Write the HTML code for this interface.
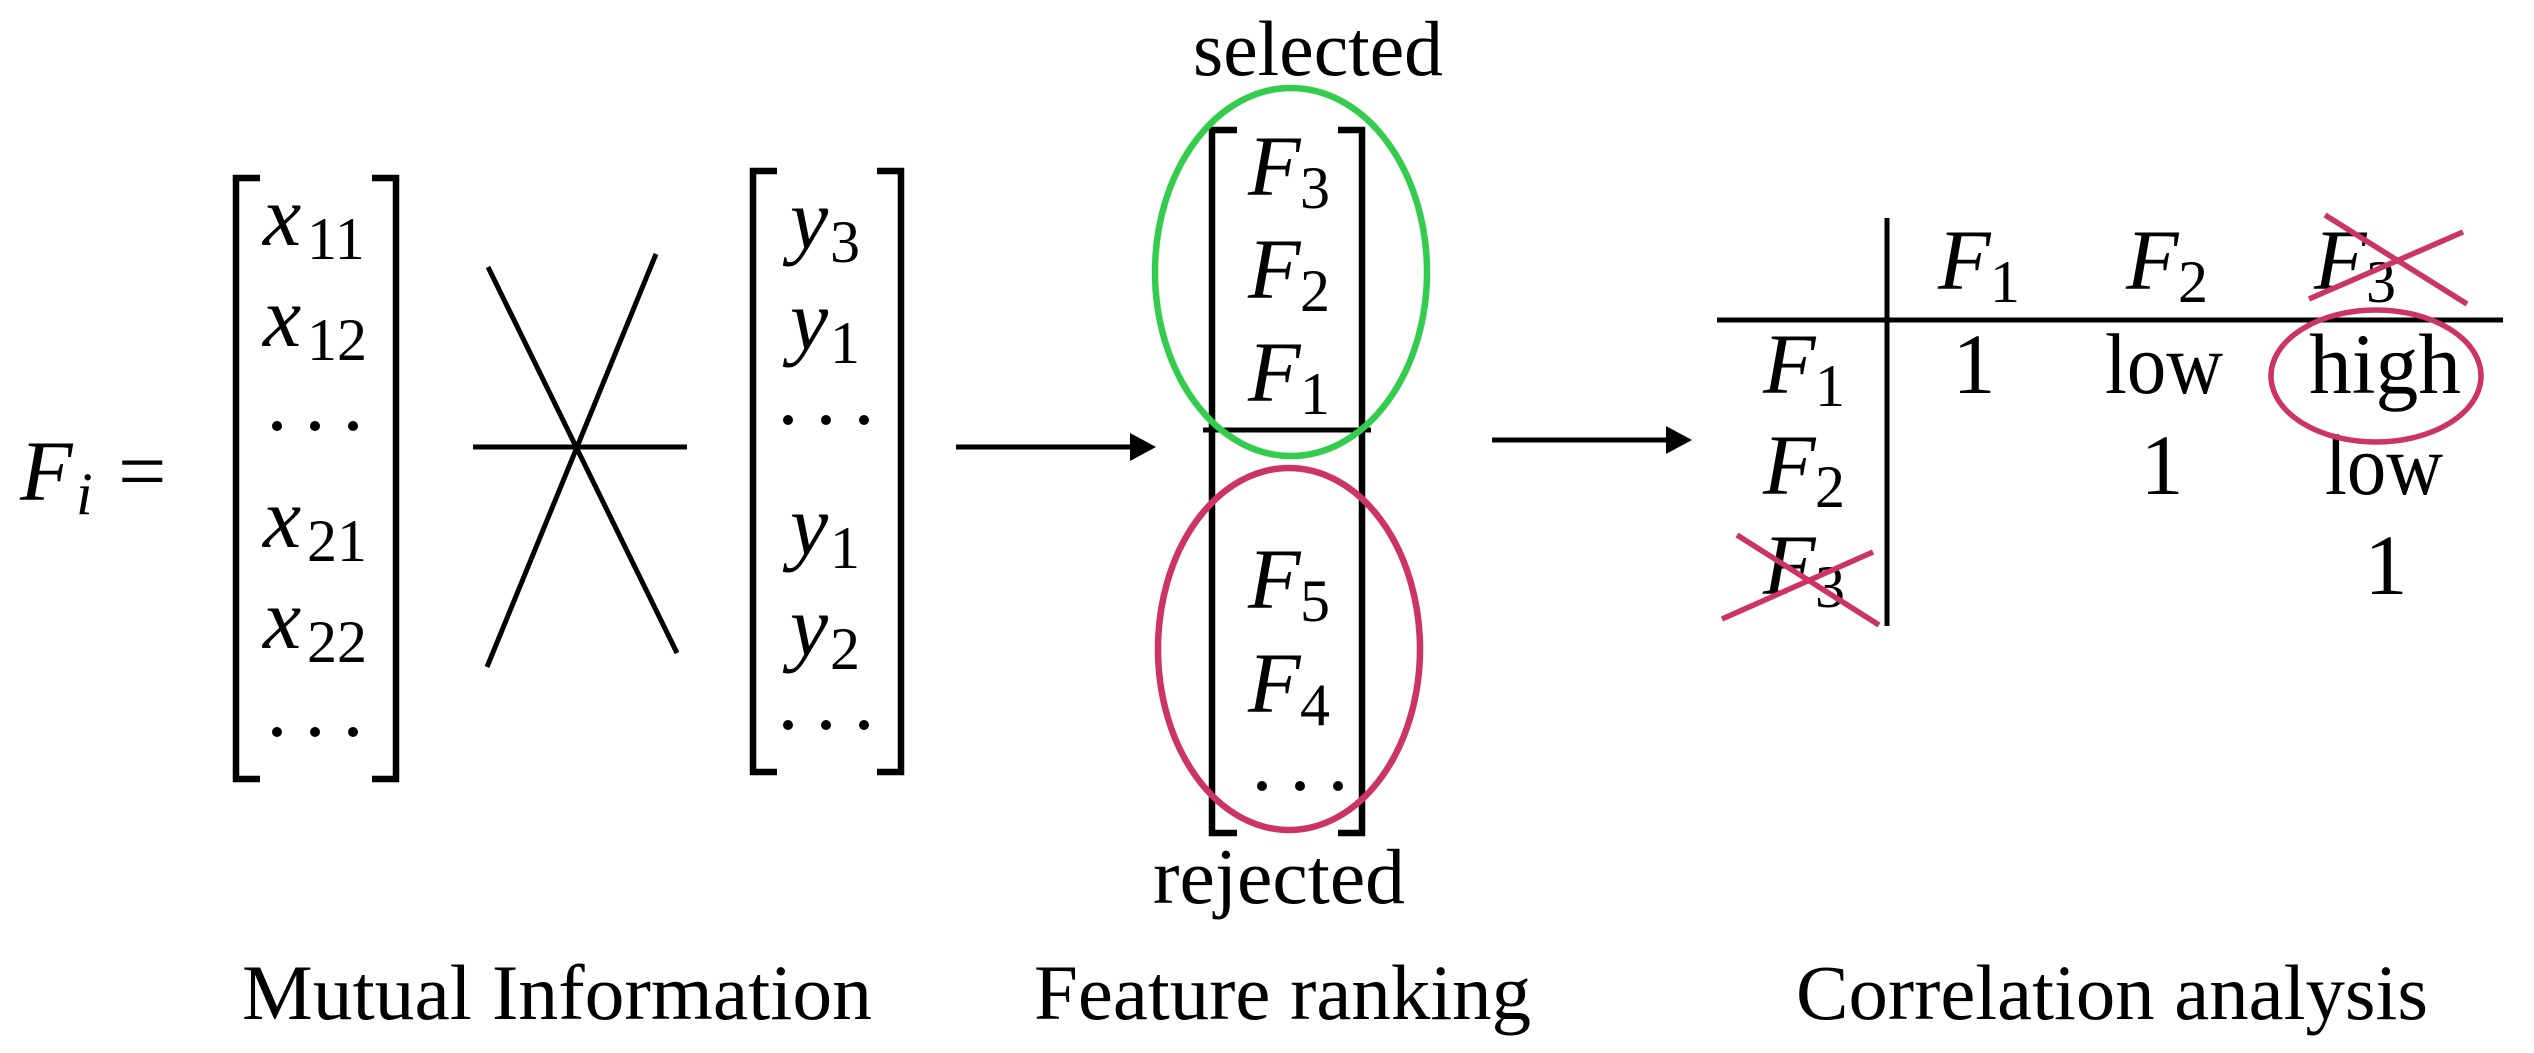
<!DOCTYPE html>
<html><head><meta charset="utf-8"><style>
html,body{margin:0;padding:0;background:#fff;}
svg{display:block;}
text{font-family:"Liberation Serif",serif;fill:#000;}
.m{font-style:italic;font-size:86px;}
.s{font-size:60px;font-style:normal;}
.n{font-size:86px;}
.l{font-size:78px;}
</style></head><body>
<svg width="2534" height="1053" viewBox="0 0 2534 1053" xmlns="http://www.w3.org/2000/svg">
<text class="m" x="20" y="500">F</text>
<text class="s" x="76" y="514" style="font-style:italic">i</text>
<text class="n" x="118" y="500">=</text>

<g fill="none" stroke="#000" stroke-width="6.5">
<path d="M260,178 H236 V779 H260"/>
<path d="M372,178 H396 V779 H372"/>
<path d="M777,171 H753 V772 H777"/>
<path d="M877,171 H901 V772 H877"/>
<path d="M1237,130 H1212 V833 H1237"/>
<path d="M1338,130 H1362 V833 H1338"/>
</g>
<text class="m" x="263" y="245">x</text><text class="s" x="307" y="259">11</text>
<text class="m" x="263" y="346">x</text><text class="s" x="307" y="360">12</text>
<text class="m" x="263" y="547">x</text><text class="s" x="307" y="561">21</text>
<text class="m" x="263" y="648">x</text><text class="s" x="307" y="662">22</text>
<text class="m" x="790" y="248">y</text><text class="s" x="830" y="262">3</text>
<text class="m" x="790" y="349">y</text><text class="s" x="830" y="363">1</text>
<text class="m" x="790" y="554">y</text><text class="s" x="830" y="568">1</text>
<text class="m" x="790" y="655">y</text><text class="s" x="830" y="669">2</text>
<g fill="#000">
<circle cx="277" cy="426" r="5"/><circle cx="315" cy="426" r="5"/><circle cx="353" cy="426" r="5"/>
<circle cx="277" cy="732" r="5"/><circle cx="315" cy="732" r="5"/><circle cx="353" cy="732" r="5"/>
<circle cx="788" cy="420" r="5"/><circle cx="826" cy="420" r="5"/><circle cx="864" cy="420" r="5"/>
<circle cx="788" cy="725" r="5"/><circle cx="826" cy="725" r="5"/><circle cx="864" cy="725" r="5"/>
<circle cx="1262" cy="786" r="5"/><circle cx="1300" cy="786" r="5"/><circle cx="1338" cy="786" r="5"/>
</g>
<g stroke="#000" stroke-width="5">
<line x1="488" y1="267" x2="677" y2="653"/>
<line x1="656" y1="254" x2="487" y2="667"/>
<line x1="473" y1="447" x2="687" y2="447"/>
<line x1="956" y1="447" x2="1135" y2="447"/>
<line x1="1203" y1="430" x2="1371" y2="430"/>
<line x1="1492" y1="440" x2="1672" y2="440"/>
<line x1="1887" y1="218" x2="1887" y2="626"/>
<line x1="1717" y1="320" x2="2503" y2="320"/>
</g>
<polygon points="1156,447 1130,433 1130,461" fill="#000"/>
<polygon points="1692,440 1666,426 1666,454" fill="#000"/>

<text class="m" x="1248" y="195">F</text><text class="s" x="1300" y="208">3</text>
<text class="m" x="1248" y="298">F</text><text class="s" x="1300" y="311">2</text>
<text class="m" x="1248" y="401">F</text><text class="s" x="1300" y="414">1</text>
<text class="m" x="1248" y="608">F</text><text class="s" x="1300" y="621">5</text>
<text class="m" x="1248" y="712">F</text><text class="s" x="1300" y="725">4</text>
<ellipse cx="1291" cy="272" rx="136" ry="184" fill="none" stroke="#33cc4d" stroke-width="6.5"/>
<ellipse cx="1289" cy="649" rx="131" ry="181" fill="none" stroke="#cc3366" stroke-width="6.5"/>
<text class="l" x="1193" y="75" textLength="250" lengthAdjust="spacingAndGlyphs">selected</text>
<text class="l" x="1153" y="903" textLength="252" lengthAdjust="spacingAndGlyphs">rejected</text>

<text class="m" x="1938" y="289">F</text><text class="s" x="1990" y="302">1</text>
<text class="m" x="2126" y="289">F</text><text class="s" x="2178" y="302">2</text>
<text class="m" x="2314" y="289">F</text><text class="s" x="2366" y="302">3</text>
<text class="m" x="1763" y="393">F</text><text class="s" x="1815" y="406">1</text>
<text class="m" x="1763" y="494">F</text><text class="s" x="1815" y="507">2</text>
<text class="m" x="1763" y="594">F</text><text class="s" x="1815" y="607">3</text>
<text class="n" x="1974" y="393" text-anchor="middle">1</text>
<text class="n" x="2105" y="393" textLength="118" lengthAdjust="spacingAndGlyphs">low</text>
<text class="n" x="2309" y="393" textLength="152" lengthAdjust="spacingAndGlyphs">high</text>
<text class="n" x="2162" y="494" text-anchor="middle">1</text>
<text class="n" x="2325" y="494" textLength="118" lengthAdjust="spacingAndGlyphs">low</text>
<text class="n" x="2386" y="594" text-anchor="middle">1</text>
<ellipse cx="2376" cy="376" rx="105" ry="66" fill="none" stroke="#cc3366" stroke-width="5.5"/>
<g stroke="#cc3366" stroke-width="5.5">
<line x1="2309" y1="299" x2="2463" y2="232"/>
<line x1="2325" y1="215" x2="2467" y2="304"/>
<line x1="1722" y1="619" x2="1873" y2="552"/>
<line x1="1737" y1="535" x2="1879" y2="625"/>
</g>

<text class="l" x="242" y="1019" textLength="630" lengthAdjust="spacingAndGlyphs">Mutual Information</text>
<text class="l" x="1034" y="1019" textLength="497" lengthAdjust="spacingAndGlyphs">Feature ranking</text>
<text class="l" x="1796" y="1019" textLength="632" lengthAdjust="spacingAndGlyphs">Correlation analysis</text>
</svg>
</body></html>
